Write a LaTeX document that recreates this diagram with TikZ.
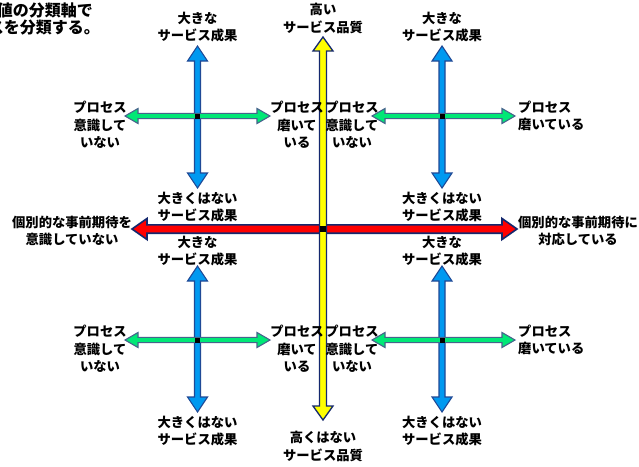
\documentclass[tikz,border=0pt]{standalone}
\usepackage{fontspec}
\setmainfont{Noto Sans CJK JP}[BoldFont={Noto Sans CJK JP Black}]
\usetikzlibrary{calc}
\definecolor{arrblue}{RGB}{0,153,240}
\definecolor{arrbluedk}{RGB}{31,73,150}
\definecolor{arrgreen}{RGB}{0,232,118}
\definecolor{arrgreendk}{RGB}{70,100,140}
\definecolor{arrred}{RGB}{255,0,0}
\definecolor{arryellow}{RGB}{255,255,0}
\definecolor{arrnavy}{RGB}{20,40,110}
% horizontal double block arrow: #1 left tip, #2 right tip, #3 shaft half, #4 head half, #5 head length, #6 style
\newcommand\hblockarrow[6]{%
  \draw[#6] (#1) -- ($(#1)+(#5,#4)$) -- ($(#1)+(#5,#3)$) -- ($(#2)+(-#5,#3)$) -- ($(#2)+(-#5,#4)$) -- (#2)
    -- ($(#2)+(-#5,-#4)$) -- ($(#2)+(-#5,-#3)$) -- ($(#1)+(#5,-#3)$) -- ($(#1)+(#5,-#4)$) -- cycle;}
% vertical double block arrow: #1 top tip, #2 bottom tip
\newcommand\vblockarrow[6]{%
  \draw[#6] (#1) -- ($(#1)+(#4,#5)$) -- ($(#1)+(#3,#5)$) -- ($(#2)+(#3,-#5)$) -- ($(#2)+(#4,-#5)$) -- (#2)
    -- ($(#2)+(-#4,-#5)$) -- ($(#2)+(-#3,-#5)$) -- ($(#1)+(-#3,#5)$) -- ($(#1)+(-#4,#5)$) -- cycle;}
\begin{document}
\begin{tikzpicture}[x=1pt,y=-1pt,
  lbl/.style={font=\bfseries\fontsize{13.3}{17.5}\selectfont, align=center, inner sep=0pt, text=black},
  ttl/.style={font=\bfseries\fontsize{16}{17.5}\selectfont, align=right, inner sep=0pt, anchor=east},
  bluearr/.style={fill=arrblue, draw=arrbluedk, line width=1.1pt, line join=miter},
  greenarr/.style={fill=arrgreen, draw=arrgreendk, line width=1.1pt, line join=miter},
  redarr/.style={fill=arrred, draw=arrnavy, line width=1.6pt, line join=miter},
  yellowarr/.style={fill=arryellow, draw=arrnavy, line width=1.3pt, line join=miter},
  hub/.style={fill=black, draw=none, minimum size=5pt, inner sep=0pt, rectangle}]
\useasboundingbox (0,0) rectangle (639,466);
\clip (0,0) rectangle (639,466);
\fill[white] (0,0) rectangle (639,466);

% title (cut at left edge, as in the reference)
\node[ttl] (t1) at (93,10) {値の分類軸で};
\node[ttl] (t2) at (100,27.5) {スを分類する。};

% main axes
\coordinate (redL) at (132,229);
\coordinate (redR) at (517,229);
\coordinate (yelT) at (323,37);
\coordinate (yelB) at (323,420);
\hblockarrow{redL}{redR}{4.2}{10.5}{15}{redarr}
\vblockarrow{yelT}{yelB}{3.5}{10}{14}{yellowarr}
\node[hub, minimum size=6pt] (c0) at (323,229) {};

% top-left cross
\coordinate (tlT) at (197.5,46);
\coordinate (tlB) at (197.5,188);
\coordinate (tlL) at (125,116);
\coordinate (tlR) at (270,116);
\vblockarrow{tlT}{tlB}{3}{10}{15}{bluearr}
\hblockarrow{tlL}{tlR}{2.6}{7.5}{13}{greenarr}
\node[hub] (c1) at (197.5,116) {};
% top-right cross
\coordinate (trT) at (442,46);
\coordinate (trB) at (442,188);
\coordinate (trL) at (372,116);
\coordinate (trR) at (515,116);
\vblockarrow{trT}{trB}{3}{10}{15}{bluearr}
\hblockarrow{trL}{trR}{2.6}{7.5}{13}{greenarr}
\node[hub] (c2) at (442,116) {};
% bottom-left cross
\coordinate (blT) at (197.5,266);
\coordinate (blB) at (197.5,412);
\coordinate (blL) at (125,340);
\coordinate (blR) at (270,340);
\vblockarrow{blT}{blB}{3}{10}{15}{bluearr}
\hblockarrow{blL}{blR}{2.6}{7.5}{13}{greenarr}
\node[hub] (c3) at (197.5,340) {};
% bottom-right cross
\coordinate (brT) at (442,266);
\coordinate (brB) at (442,412);
\coordinate (brL) at (372,340);
\coordinate (brR) at (515,340);
\vblockarrow{brT}{brB}{3}{10}{15}{bluearr}
\hblockarrow{brL}{brR}{2.6}{7.5}{13}{greenarr}
\node[hub] (c4) at (442,340) {};

% main axis labels
\node[lbl] (qh) at (323,18.5) {高い\\サービス品質};
\node[lbl] (ql) at (323,446.5) {高くはない\\サービス品質};
\node[lbl] (el) at (72,231) {個別的な事前期待を\\意識していない};
\node[lbl] (er) at (578,231) {個別的な事前期待に\\対応している};

% top-left labels
\node[lbl] (l1) at (197.5,27) {大きな\\サービス成果};
\node[lbl] (l2) at (197.5,207) {大きくはない\\サービス成果};
\node[lbl] (l3) at (100,125) {プロセス\\意識して\\いない};
\node[lbl] (l4) at (297,125) {プロセス\\磨いて\\いる};
% top-right labels
\node[lbl] (l5) at (442,27) {大きな\\サービス成果};
\node[lbl] (l6) at (442,207) {大きくはない\\サービス成果};
\node[lbl] (l7) at (352,125) {プロセス\\意識して\\いない};
\node[lbl, anchor=west, align=left] (l8) at (518,116) {プロセス\\磨いている};
% bottom-left labels
\node[lbl] (l9) at (197.5,251) {大きな\\サービス成果};
\node[lbl] (l10) at (197.5,431) {大きくはない\\サービス成果};
\node[lbl] (l11) at (100,349) {プロセス\\意識して\\いない};
\node[lbl] (l12) at (297,349) {プロセス\\磨いて\\いる};
% bottom-right labels
\node[lbl] (l13) at (442,251) {大きな\\サービス成果};
\node[lbl] (l14) at (442,431) {大きくはない\\サービス成果};
\node[lbl] (l15) at (352,349) {プロセス\\意識して\\いない};
\node[lbl, anchor=west, align=left] (l16) at (518,340) {プロセス\\磨いている};
\end{tikzpicture}
\end{document}
